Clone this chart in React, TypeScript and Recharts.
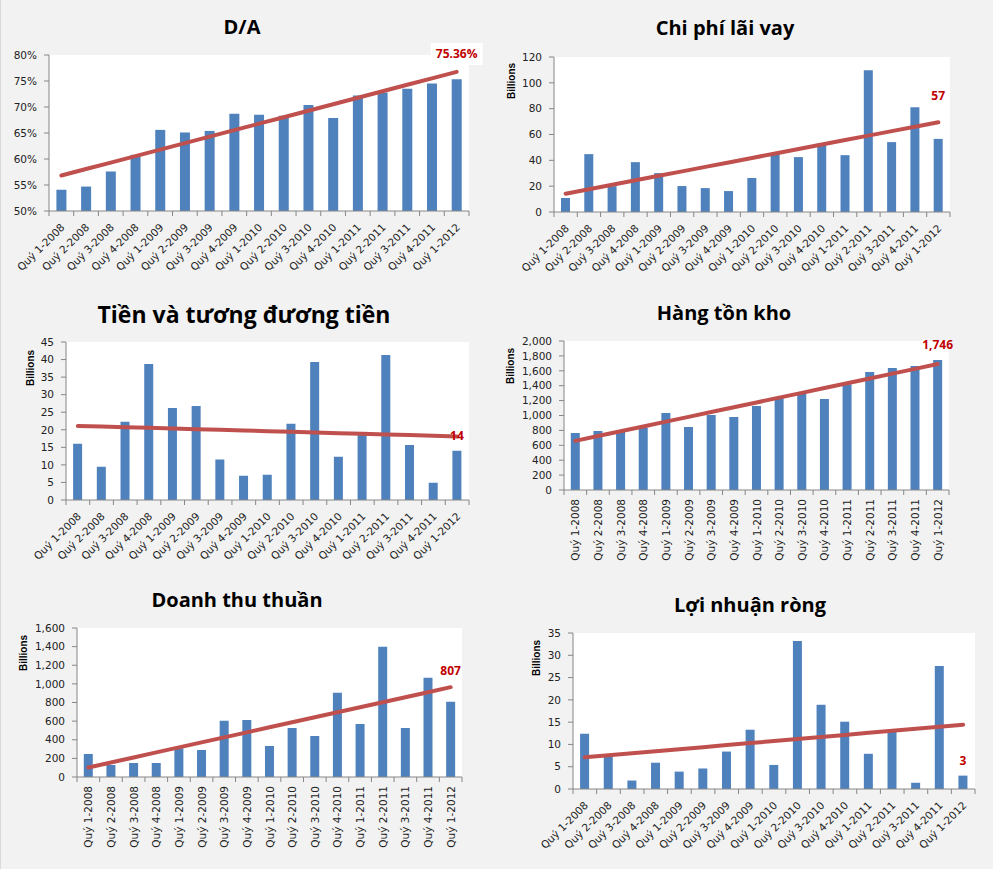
import React from "react";
import { ComposedChart, Bar, Line, XAxis, YAxis, CartesianGrid, LabelList } from "recharts";

const quarters = [
  "Quý 1-2008", "Quý 2-2008", "Quý 3-2008", "Quý 4-2008",
  "Quý 1-2009", "Quý 2-2009", "Quý 3-2009", "Quý 4-2009",
  "Quý 1-2010", "Quý 2-2010", "Quý 3-2010", "Quý 4-2010",
  "Quý 1-2011", "Quý 2-2011", "Quý 3-2011", "Quý 4-2011",
  "Quý 1-2012",
];

// D/A in percent
const daRatio = [54.1, 54.7, 57.6, 60.8, 65.6, 65.1, 65.4, 68.7, 68.5, 68.3, 70.4, 67.9, 72.2, 72.8, 73.5, 74.5, 75.36];
// billions
const interestExpense = [10.8, 44.8, 20, 38.6, 30.1, 20.1, 18.5, 16.2, 26.3, 45, 42.5, 53, 44, 109.7, 54.1, 81.1, 56.6];
const cash = [16, 9.5, 22.3, 38.7, 26.2, 26.8, 11.5, 6.9, 7.2, 21.7, 39.3, 12.3, 19, 41.3, 15.7, 4.9, 14];
const inventory = [765, 792, 785, 840, 1034, 846, 1007, 980, 1128, 1240, 1290, 1221, 1420, 1584, 1638, 1664, 1746];
const revenue = [248, 129, 151, 151, 310, 291, 603, 613, 334, 527, 441, 904, 570, 1399, 527, 1065, 807];
const netProfit = [12.4, 7.3, 1.9, 5.9, 3.9, 4.6, 8.4, 13.3, 5.4, 33.2, 18.9, 15.1, 7.9, 12.8, 1.4, 27.6, 3];

const daTicks = [50, 55, 60, 65, 70, 75, 80];
const interestTicks = [0, 20, 40, 60, 80, 100, 120];
const cashTicks = [0, 5, 10, 15, 20, 25, 30, 35, 40, 45];
const inventoryTicks = [0, 200, 400, 600, 800, 1000, 1200, 1400, 1600, 1800, 2000];
const revenueTicks = [0, 200, 400, 600, 800, 1000, 1200, 1400, 1600];
const profitTicks = [0, 5, 10, 15, 20, 25, 30, 35];

const BAR = "#4f81bd";
const TREND = "#c0504d";
const AXIS = "#868686";
const TICK_FONT = "'DejaVu Sans', sans-serif";

// linear trendline, same as Excel's
function linearTrend(values: number[]) {
  const n = values.length;
  const mx = (n + 1) / 2;
  const my = values.reduce((a, b) => a + b, 0) / n;
  let num = 0, den = 0;
  values.forEach((v, i) => {
    num += (i + 1 - mx) * (v - my);
    den += (i + 1 - mx) * (i + 1 - mx);
  });
  const slope = num / den;
  return values.map((_, i) => my + slope * (i + 1 - mx));
}

const fmtNum = (v: number) => v.toLocaleString("en-US");

type PanelProps = {
  left: number; top: number; w: number; h: number;
  title: string; titleX: number; titleY: number; titleSize: number;
  values: number[]; ticks: number[]; tickFmt: (v: number) => string;
  labelText: string; labelGap: number; labelBox?: boolean;
  billions?: [number, number];
  rotate: number;
  m: { l: number; r: number; t: number; b: number };
};

function Panel(p: PanelProps) {
  const trend = linearTrend(p.values);
  const data = quarters.map((q, i) => ({ q, v: p.values[i], t: trend[i] }));
  const band = (p.w - p.m.l - p.m.r) / quarters.length;
  const last = quarters.length - 1;

  const XTick = (props: any) => {
    const { x, y, payload, index } = props;
    const lines = [<line key="a" x1={x - band / 2} x2={x - band / 2} y1={y} y2={y + 5} stroke={AXIS} />];
    if (index === last) lines.push(<line key="b" x1={x + band / 2} x2={x + band / 2} y1={y} y2={y + 5} stroke={AXIS} />);
    const tr = p.rotate === -90
      ? `translate(${x + 4},${y + 9}) rotate(-90)`
      : `translate(${x + 4},${y + 17}) rotate(-45)`;
    return (
      <g>
        {lines}
        <text transform={tr} textAnchor="end" fontSize={10.5} fontFamily={TICK_FONT} fill="#222">
          {payload.value}
        </text>
      </g>
    );
  };

  const LastLabel = (props: any) => {
    const { x, y, width, index } = props;
    if (index !== last) return null;
    const cx = x + width / 2;
    const cy = y - p.labelGap;
    return (
      <g>
        {p.labelBox && <rect x={cx - 26} y={cy - 11} width={52} height={22} fill="#fff" />}
        <text x={cx} y={cy} dy="0.36em" textAnchor="middle" fontSize={12} fontWeight="bold"
          fontFamily="'Open Sans', sans-serif" fill="#c00000">
          {p.labelText}
        </text>
      </g>
    );
  };

  return (
    <div style={{ position: "absolute", left: p.left, top: p.top, width: p.w, height: p.h }}>
      <ComposedChart width={p.w} height={p.h} data={data} barCategoryGap="30%"
        margin={{ top: p.m.t, right: p.m.r, bottom: 0, left: 0 }}>
        <CartesianGrid fill="#ffffff" stroke="none" horizontal={false} vertical={false} />
        <XAxis dataKey="q" interval={0} height={p.m.b} tick={<XTick />} tickLine={false}
          tickSize={0} tickMargin={0} axisLine={{ stroke: AXIS }} />
        <YAxis width={p.m.l} domain={[p.ticks[0], p.ticks[p.ticks.length - 1]]} ticks={p.ticks}
          tickFormatter={p.tickFmt} interval={0} allowDataOverflow
          axisLine={{ stroke: AXIS }} tickLine={{ stroke: AXIS }} tickSize={5} tickMargin={7}
          tick={{ fontSize: 10.5, fontFamily: TICK_FONT, fill: "#222" }} />
        <Bar dataKey="v" fill={BAR} isAnimationActive={false}>
          <LabelList dataKey="v" content={<LastLabel />} />
        </Bar>
        <Line dataKey="t" type="linear" stroke={TREND} strokeWidth={4} dot={false}
          strokeLinecap="round" isAnimationActive={false} />
      </ComposedChart>
      <div style={{
        position: "absolute", left: p.titleX, top: p.titleY, transform: "translate(-50%, -50%)",
        whiteSpace: "nowrap", fontFamily: "'Open Sans', sans-serif", fontWeight: 700,
        fontSize: p.titleSize, color: "#000",
      }}>{p.title}</div>
      {p.billions && (
        <div style={{
          position: "absolute", left: p.billions[0], top: p.billions[1],
          transform: "translate(-50%, -50%) rotate(-90deg)", whiteSpace: "nowrap",
          fontFamily: "'Liberation Sans', sans-serif", fontWeight: 700, fontSize: 10, color: "#000",
        }}>Billions</div>
      )}
    </div>
  );
}

export default function App() {
  return (
    <div style={{ position: "relative", width: 993, height: 869, background: "#f2f2f2", borderLeft: "1px solid #d9d9d9", boxSizing: "border-box" }}>
      <style>{"body{margin:0}"}</style>
      <Panel left={0} top={0} w={497} h={290} title="D/A" titleX={241} titleY={26} titleSize={20}
        values={daRatio} ticks={daTicks} tickFmt={(v) => `${v}%`}
        labelText={`${daRatio[daRatio.length - 1].toFixed(2)}%`} labelGap={25} labelBox
        rotate={-45} m={{ l: 48, r: 29, t: 55, b: 79 }} />
      <Panel left={497} top={0} w={496} h={290} title="Chi phí lãi vay" titleX={227} titleY={27} titleSize={20}
        values={interestExpense} ticks={interestTicks} tickFmt={fmtNum}
        labelText={fmtNum(Math.round(interestExpense[16]))} labelGap={43} billions={[13, 81]}
        rotate={-45} m={{ l: 56, r: 44, t: 57, b: 78 }} />
      <Panel left={0} top={290} w={497} h={290} title="Tiền và tương đương tiền" titleX={243} titleY={24} titleSize={23}
        values={cash} ticks={cashTicks} tickFmt={fmtNum}
        labelText={fmtNum(Math.round(cash[16]))} labelGap={15} billions={[29, 78]}
        rotate={-45} m={{ l: 65, r: 29, t: 52, b: 80 }} />
      <Panel left={497} top={290} w={496} h={290} title="Hàng tồn kho" titleX={226} titleY={22} titleSize={20}
        values={inventory} ticks={inventoryTicks} tickFmt={fmtNum}
        labelText={fmtNum(Math.round(inventory[16]))} labelGap={15} billions={[12, 76]}
        rotate={-90} m={{ l: 66, r: 45, t: 51, b: 90 }} />
      <Panel left={0} top={580} w={497} h={289} title="Doanh thu thuần" titleX={236} titleY={19} titleSize={20}
        values={revenue} ticks={revenueTicks} tickFmt={fmtNum}
        labelText={fmtNum(Math.round(revenue[16]))} labelGap={31} billions={[22, 73]}
        rotate={-90} m={{ l: 76, r: 36, t: 48, b: 92 }} />
      <Panel left={497} top={580} w={496} h={289} title="Lợi nhuận ròng" titleX={252} titleY={24} titleSize={20}
        values={netProfit} ticks={profitTicks} tickFmt={fmtNum}
        labelText={fmtNum(Math.round(netProfit[16]))} labelGap={15} billions={[38, 78]}
        rotate={-45} m={{ l: 75, r: 19, t: 53, b: 80 }} />
    </div>
  );
}
